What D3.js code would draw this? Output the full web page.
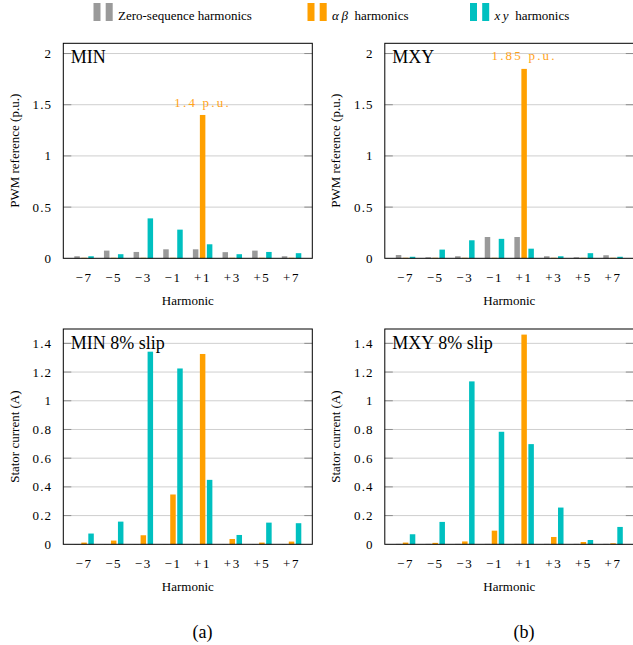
<!DOCTYPE html>
<html>
<head>
<meta charset="utf-8">
<script src="https://cdn.jsdelivr.net/npm/d3@7"></script>
<style>
  html, body { margin: 0; padding: 0; background: #fff; }
  svg { display: block; }
</style>
</head>
<body>
<svg id="chart" width="633" height="645" font-family="'Liberation Serif', 'Times New Roman', Times, 'DejaVu Serif', serif"></svg>
<script>
// Harmonic orders shown on every x axis
const harmonics = [-7, -5, -3, -1, 1, 3, 5, 7];
const harmonicLabels = ["\u22127", "\u22125", "\u22123", "\u22121", "+1", "+3", "+5", "+7"];

// MIN strategy, PWM reference (p.u.)
const minPwmZero = [0.02, 0.075, 0.062, 0.088, 0.088, 0.06, 0.075, 0.02];
const minPwmAB   = [0.005, 0.005, 0.005, 0.005, 1.4, 0.005, 0.005, 0.005];
const minPwmXY   = [0.02, 0.04, 0.39, 0.28, 0.137, 0.04, 0.062, 0.05];

// MXY strategy, PWM reference (p.u.)
const mxyPwmZero = [0.032, 0.01, 0.02, 0.208, 0.208, 0.02, 0.01, 0.03];
const mxyPwmAB   = [0.005, 0.005, 0.005, 0.005, 1.85, 0.005, 0.005, 0.005];
const mxyPwmXY   = [0.015, 0.085, 0.176, 0.19, 0.094, 0.02, 0.05, 0.015];

// MIN strategy, stator current (A) at 8% slip
const minSlipZero = [0.002, 0.002, 0.002, 0.002, 0.002, 0.002, 0.002, 0.002];
const minSlipAB   = [0.012, 0.026, 0.063, 0.347, 1.326, 0.037, 0.012, 0.019];
const minSlipXY   = [0.075, 0.158, 1.342, 1.225, 0.449, 0.065, 0.151, 0.147];

// MXY strategy, stator current (A) at 8% slip
const mxySlipZero = [0.003, 0.003, 0.003, 0.003, 0.003, 0.003, 0.003, 0.003];
const mxySlipAB   = [0.012, 0.01, 0.02, 0.095, 1.461, 0.051, 0.016, 0.007];
const mxySlipXY   = [0.07, 0.156, 1.135, 0.784, 0.698, 0.256, 0.03, 0.121];

const pwmTicks = [0, 0.5, 1, 1.5, 2];
const currentTicks = [0, 0.2, 0.4, 0.6, 0.8, 1, 1.2, 1.4];

const seriesNames = ["zero", "ab", "xy"];
const colors = { zero: "#9a9a9a", ab: "#ffa000", xy: "#00c0c0" };

const svg = d3.select("#chart");

// Legend
const legend = [
  { key: "zero", x: 93.5, parts: [["Zero-sequence harmonics", false]] },
  { key: "ab", x: 307.5, parts: [["\u03b1\u2009\u03b2", true], ["  harmonics", false]] },
  { key: "xy", x: 470, parts: [["x\u2009y", true], ["  harmonics", false]] }
];
legend.forEach(l => {
  const g = svg.append("g").attr("transform", `translate(${l.x},0)`);
  [0, 12.2].forEach(dx => {
    g.append("rect").attr("x", dx).attr("y", 3).attr("width", 7).attr("height", 18)
      .attr("fill", colors[l.key]);
  });
  const t = g.append("text").attr("x", 24.5).attr("y", 19.5).attr("font-size", 13)
    .attr("xml:space", "preserve");
  l.parts.forEach(([s, it]) => {
    t.append("tspan").text(s).attr("font-style", it ? "italic" : "normal");
  });
});

const panelW = 249, colShift = 321.5;
const panels = [
  { left: 63.3, top: 43.3, bottom: 258.3, max: 2.1, ticks: pwmTicks, title: "MIN",
    yLabel: "PWM reference (p.u.)", data: [minPwmZero, minPwmAB, minPwmXY],
    note: { idx: 4, text: "1.4 p.u.", y: 107 } },
  { left: 63.3 + colShift, top: 43.3, bottom: 258.3, max: 2.1, ticks: pwmTicks, title: "MXY",
    yLabel: "PWM reference (p.u.)", data: [mxyPwmZero, mxyPwmAB, mxyPwmXY],
    note: { idx: 4, text: "1.85 p.u.", y: 60 } },
  { left: 63.3, top: 329, bottom: 544.3, max: 1.5, ticks: currentTicks, title: "MIN 8% slip",
    yLabel: "Stator current (A)", data: [minSlipZero, minSlipAB, minSlipXY] },
  { left: 63.3 + colShift, top: 329, bottom: 544.3, max: 1.5, ticks: currentTicks, title: "MXY 8% slip",
    yLabel: "Stator current (A)", data: [mxySlipZero, mxySlipAB, mxySlipXY] }
];

panels.forEach(p => {
  const x = d3.scaleLinear().domain([-8.4, 8.4]).range([p.left, p.left + panelW]);
  const y = d3.scaleLinear().domain([0, p.max]).range([p.bottom, p.top]);
  const sub = d3.scalePoint().domain(seriesNames).range([-7, 7]);
  const barW = 5.5;
  const g = svg.append("g");

  // Horizontal grid with inner tick marks on both sides
  const gridTicks = p.ticks.filter(v => v > 0);
  g.selectAll(".grid").data(gridTicks).join("line")
    .attr("x1", p.left).attr("x2", p.left + panelW)
    .attr("y1", d => y(d)).attr("y2", d => y(d))
    .attr("stroke", "#cfcfcf").attr("stroke-width", 1);
  [[p.left, p.left + 8], [p.left + panelW - 8, p.left + panelW]].forEach(([a, b]) => {
    g.selectAll(null).data(gridTicks).join("line")
      .attr("x1", a).attr("x2", b)
      .attr("y1", d => y(d)).attr("y2", d => y(d))
      .attr("stroke", "#8c8c8c").attr("stroke-width", 1);
  });

  // Bars
  seriesNames.forEach((s, si) => {
    g.selectAll(null).data(p.data[si]).join("rect")
      .attr("x", (d, i) => x(harmonics[i]) + sub(s) - barW / 2)
      .attr("width", barW)
      .attr("y", d => y(d))
      .attr("height", d => y(0) - y(d))
      .attr("fill", colors[s]);
  });

  // Frame
  g.append("rect").attr("x", p.left).attr("y", p.top)
    .attr("width", panelW).attr("height", p.bottom - p.top)
    .attr("fill", "none").attr("stroke", "#000").attr("stroke-width", 1);

  // Y tick labels
  const fmt = d3.format("~g");
  g.selectAll(".ytl").data(p.ticks).join("text")
    .attr("x", p.left - 11).attr("y", d => y(d) + 4.5)
    .attr("text-anchor", "end").attr("font-size", 13).attr("letter-spacing", 1.2)
    .text(d => fmt(d));

  // X tick labels
  g.selectAll(".xtl").data(harmonics).join("text")
    .attr("x", d => x(d)).attr("y", p.bottom + 23.5)
    .attr("text-anchor", "middle").attr("font-size", 13).attr("letter-spacing", 1.6)
    .text((d, i) => harmonicLabels[i]);

  // Axis titles
  g.append("text").attr("x", p.left + panelW / 2).attr("y", p.bottom + 47)
    .attr("text-anchor", "middle").attr("font-size", 13).text("Harmonic");
  g.append("text")
    .attr("transform", `translate(${p.left - 44.5},${(p.top + p.bottom) / 2}) rotate(-90)`)
    .attr("text-anchor", "middle").attr("font-size", 13).text(p.yLabel);

  // Panel title
  g.append("text").attr("x", p.left + 7.5).attr("y", p.top + 20)
    .attr("font-size", 18).text(p.title);

  // Value annotation above the fundamental
  if (p.note) {
    g.append("text")
      .attr("x", x(harmonics[p.note.idx])).attr("y", p.note.y)
      .attr("text-anchor", "middle").attr("font-size", 13).attr("letter-spacing", 2.2)
      .attr("fill", "#ffa31a").text(p.note.text);
  }
});

// Subfigure captions
[["(a)", 202.5], ["(b)", 524]].forEach(([s, cx]) => {
  svg.append("text").attr("x", cx).attr("y", 638).attr("text-anchor", "middle")
    .attr("font-size", 18).text(s);
});
</script>
</body>
</html>
